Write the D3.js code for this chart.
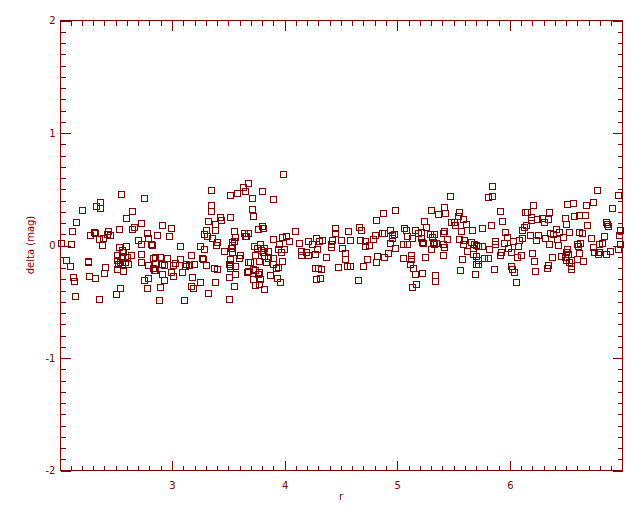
<!DOCTYPE html>
<html><head><meta charset="utf-8">
<script src="https://cdn.jsdelivr.net/npm/d3@7"></script>
<style>body{margin:0;background:#fff}svg{display:block}</style>
</head><body>
<svg id="c" width="640" height="512"></svg>
<script>
// r values
const rVals = [
2.554,2.758,2.365,2.332,2.365,2.208,2.652,2.598,2.155,2.731,2.667,2.652,2.536,2.119,2.310,2.320,2.439,2.424,2.456,2.279,2.394,2.359,2.785,2.794,2.705,2.385,2.022,2.110,2.731,2.815,2.824,2.531,2.596,2.557,2.572,2.513,2.557,2.602,2.640,2.731,2.838,2.066,2.256,2.261,2.518,2.542,2.525,2.589,2.616,2.563,2.731,2.101,2.412,2.513,2.572,2.794,2.833,2.844,2.403,2.128,2.137,2.270,2.323,2.791,2.758,2.545,2.510,2.785,2.146,2.359,
3.353,3.521,3.583,3.637,3.654,3.681,3.353,3.353,3.433,3.442,3.521,3.326,3.385,3.388,2.918,2.998,2.874,2.980,3.308,3.285,3.314,3.362,3.557,3.566,3.643,3.649,3.663,3.406,3.391,3.078,3.255,3.288,3.539,3.533,3.524,3.554,3.468,3.536,3.175,3.267,3.276,3.610,3.601,3.521,2.850,2.894,2.962,3.075,2.853,2.912,2.930,3.027,3.015,3.131,3.119,3.155,3.196,3.303,3.379,3.406,3.507,3.521,3.566,3.515,3.675,2.850,2.998,3.015,2.918,3.095,3.672,3.184,3.560,3.513,2.936,3.255,3.388,2.900,3.172,3.193,3.557,3.326,2.891,3.113,3.513,
3.992,3.805,3.717,3.903,3.717,3.725,3.805,3.814,3.770,4.098,3.675,3.903,3.980,4.018,4.045,3.956,4.134,4.211,4.284,4.338,4.249,4.308,4.453,4.453,4.426,4.415,4.412,4.503,4.512,3.731,3.755,3.788,3.791,3.817,3.808,3.950,3.971,4.003,3.859,4.151,4.151,4.196,4.211,4.276,4.293,4.370,4.477,3.743,3.779,3.699,3.678,3.823,3.859,3.838,3.897,3.900,3.980,3.944,3.927,3.720,3.743,3.779,3.764,3.879,3.933,3.965,3.728,3.785,3.743,3.779,3.823,4.273,4.302,4.329,4.282,4.317,
4.985,4.879,4.817,5.302,5.243,5.261,4.568,4.666,4.684,4.506,4.586,4.515,4.672,4.719,4.716,4.758,4.790,4.808,4.870,4.888,4.941,4.956,4.977,4.959,4.938,4.985,5.065,5.086,5.166,5.187,5.213,5.095,5.133,5.216,5.234,5.228,5.056,5.095,5.299,5.314,5.323,5.302,4.542,4.542,4.560,4.584,4.737,4.702,4.817,4.826,4.888,4.923,4.657,5.056,5.127,5.124,5.115,5.145,5.223,5.249,5.166,5.169,5.133,5.337,5.337,
5.846,5.811,5.846,5.474,5.917,5.420,5.429,5.367,5.553,5.544,5.589,5.509,5.616,5.518,5.483,5.935,5.837,5.757,5.668,5.571,5.961,5.979,5.988,5.953,6.032,6.085,6.076,6.112,6.127,6.112,6.139,5.420,5.411,5.332,5.349,5.332,5.411,5.420,5.447,5.553,5.598,5.589,5.660,5.687,5.704,5.678,5.722,5.757,5.819,5.873,5.873,5.625,5.678,5.704,5.775,5.813,5.926,5.917,6.018,6.068,6.103,5.411,5.580,5.722,5.704,5.722,5.562,5.695,5.864,6.015,6.027,6.041,6.059,
6.778,6.964,6.742,6.680,6.565,6.512,6.911,6.210,6.352,6.154,6.618,6.671,6.574,6.494,6.503,6.689,6.192,6.192,6.245,6.290,6.308,6.343,6.148,6.858,6.876,6.867,6.414,6.441,6.361,6.387,6.316,6.254,6.183,6.237,6.529,6.618,6.645,6.725,6.840,6.822,6.796,6.982,6.973,6.982,6.964,6.476,6.423,6.352,6.432,6.600,6.627,6.609,6.742,6.751,6.787,6.858,6.893,6.796,6.201,6.379,6.219,6.228,6.334,6.343,6.458,6.503,6.494,6.512,6.520,6.618,6.503,6.529,6.547,6.547,6.547,6.600,6.654
];
// delta (mag) values
const deltaVals = [
0.451,0.415,0.380,0.344,0.326,0.308,0.300,0.237,0.202,0.193,0.163,0.142,0.142,0.122,0.115,0.105,0.122,0.095,0.086,0.086,0.065,0.053,0.104,0.065,0.042,0.000,0.015,0.006,0.012,0.012,0.000,-0.018,-0.012,-0.044,-0.065,-0.089,-0.104,-0.104,-0.089,-0.077,-0.113,-0.136,-0.145,-0.154,-0.131,-0.148,-0.166,-0.154,-0.166,-0.169,-0.154,-0.189,-0.198,-0.216,-0.234,-0.178,-0.204,-0.225,-0.252,-0.282,-0.323,-0.278,-0.291,-0.296,-0.314,-0.385,-0.436,-0.385,-0.456,-0.483,
0.486,0.441,0.459,0.519,0.480,0.548,0.353,0.299,0.252,0.219,0.246,0.210,0.184,0.130,0.175,0.148,0.086,0.077,0.133,0.095,0.083,0.059,0.121,0.071,0.107,0.077,0.080,0.024,0.000,-0.012,-0.012,-0.036,0.030,0.000,-0.030,0.036,-0.056,-0.065,-0.092,-0.119,-0.127,-0.089,-0.119,-0.124,-0.110,-0.110,-0.119,-0.127,-0.160,-0.166,-0.178,-0.157,-0.175,-0.172,-0.184,-0.178,-0.172,-0.178,-0.207,-0.216,-0.172,-0.187,-0.190,-0.207,-0.148,-0.222,-0.243,-0.276,-0.258,-0.243,-0.237,-0.287,-0.261,-0.287,-0.314,-0.332,-0.332,-0.376,-0.367,-0.385,-0.367,-0.430,-0.489,-0.492,-0.483,
0.628,0.477,0.415,0.406,0.317,0.258,0.166,0.148,0.139,0.121,0.104,0.053,0.068,0.077,0.033,0.009,0.015,0.033,0.059,0.047,0.006,0.036,0.148,0.104,0.041,0.006,-0.018,0.041,-0.030,-0.009,-0.030,0.009,-0.044,-0.030,-0.065,-0.036,-0.059,-0.036,-0.056,-0.053,-0.089,-0.065,-0.089,-0.083,-0.039,-0.110,-0.199,-0.089,-0.139,-0.148,-0.231,-0.098,-0.113,-0.151,-0.119,-0.169,-0.145,-0.196,-0.202,-0.213,-0.222,-0.243,-0.258,-0.267,-0.296,-0.332,-0.305,-0.302,-0.356,-0.347,-0.394,-0.207,-0.201,-0.216,-0.305,-0.296,
0.308,0.281,0.219,0.308,0.210,0.157,0.121,0.157,0.130,0.041,0.041,-0.030,0.041,0.033,-0.006,-0.003,0.050,0.086,0.110,0.104,0.130,0.086,0.095,0.059,0.015,-0.030,0.148,0.130,0.130,0.104,0.119,0.083,0.065,0.065,0.018,0.030,0.006,0.006,0.095,0.074,0.024,-0.036,-0.074,-0.127,-0.187,-0.187,-0.127,-0.187,-0.154,-0.101,-0.110,-0.074,-0.314,-0.119,-0.092,-0.127,-0.172,-0.207,-0.252,-0.110,-0.261,-0.347,-0.376,-0.267,-0.320,
0.521,0.424,0.433,0.433,0.299,0.335,0.281,0.273,0.290,0.261,0.228,0.201,0.190,0.175,0.201,0.210,0.175,0.148,0.130,0.121,0.113,0.068,-0.027,0.015,0.033,0.044,-0.012,0.130,0.160,0.059,0.290,0.121,0.104,0.095,0.015,0.006,0.006,-0.018,0.050,0.050,0.044,0.006,0.024,0.009,0.000,-0.027,-0.012,-0.012,-0.039,0.033,0.012,-0.056,-0.083,-0.095,-0.119,-0.119,-0.065,-0.092,-0.065,-0.107,-0.089,-0.092,-0.127,-0.133,-0.172,-0.172,-0.225,-0.261,-0.216,-0.187,-0.216,-0.243,-0.332,
0.486,0.444,0.379,0.353,0.370,0.361,0.326,0.353,0.290,0.290,0.264,0.264,0.255,0.237,0.184,0.175,0.246,0.219,0.228,0.237,0.201,0.228,0.175,0.201,0.166,0.190,0.139,0.113,0.104,0.095,0.059,0.086,0.086,0.044,0.113,0.113,0.104,0.059,0.077,0.015,0.006,0.130,0.089,0.006,-0.039,0.068,0.050,0.006,-0.003,0.006,0.015,-0.012,-0.021,-0.065,-0.083,-0.083,-0.056,-0.059,-0.074,-0.110,-0.145,-0.234,-0.207,-0.181,-0.101,-0.065,-0.110,-0.039,-0.083,-0.074,-0.136,-0.148,-0.136,-0.190,-0.216,-0.127,-0.145
];
const xTicks = [3, 4, 5, 6];
const yTicks = [-2, -1, 0, 1, 2];
const xTitle = "r";
const yTitle = "delta (mag)";

const col = "#800000";
const svg = d3.select("#c");
const L = 60, R = 622, T = 20, B = 470;
const x = d3.scaleLinear().domain([2.01, 7.0]).range([L, R]);
const y = d3.scaleLinear().domain([-2, 2]).range([B, T]);

const g = svg.append("g").attr("shape-rendering", "crispEdges");
const pts = rVals.map((r, i) => [r, deltaVals[i]]);
g.selectAll("rect.pt").data(pts).enter().append("rect")
  .attr("class", "pt")
  .attr("x", d => Math.round(x(d[0])) - 3 + 0.5)
  .attr("y", d => Math.round(y(d[1])) - 3 + 0.5)
  .attr("width", 6).attr("height", 6)
  .attr("fill", "none").attr("stroke", col).attr("stroke-width", 1);

g.append("rect").attr("x", L + 0.5).attr("y", T + 0.5)
  .attr("width", R - L).attr("height", B - T)
  .attr("fill", "none").attr("stroke", col).attr("stroke-width", 1);

const fnt = "DejaVu Sans, sans-serif";
const fmt = v => String(v);
function axis(a, tr) {
  const gg = svg.append("g").attr("transform", tr).call(a);
  gg.select(".domain").remove();
  gg.selectAll("line").attr("stroke", col).attr("shape-rendering", "crispEdges");
  gg.selectAll("text").attr("fill", col).attr("font-family", fnt).attr("font-size", 10);
  return gg;
}
const xMinor = d3.range(21, 70).map(v => v / 10);
const yMinor = d3.range(-20, 21).map(v => v / 10);
axis(d3.axisTop(x).tickValues(xMinor).tickSize(5).tickFormat(""), `translate(0.5,${B + 0.5})`);
axis(d3.axisTop(x).tickValues(xTicks).tickSize(10).tickFormat(""), `translate(0.5,${B + 0.5})`);
axis(d3.axisBottom(x).tickValues(xTicks).tickSize(0).tickPadding(11).tickFormat(fmt), `translate(0.5,${B + 0.5})`);
axis(d3.axisBottom(x).tickValues(xMinor).tickSize(5).tickFormat(""), `translate(0.5,${T + 0.5})`);
axis(d3.axisBottom(x).tickValues(xTicks).tickSize(10).tickFormat(""), `translate(0.5,${T + 0.5})`);
axis(d3.axisRight(y).tickValues(yMinor).tickSize(5).tickFormat(""), `translate(${L + 0.5},0.5)`);
axis(d3.axisRight(y).tickValues(yTicks).tickSize(10).tickFormat(""), `translate(${L + 0.5},0.5)`);
axis(d3.axisLeft(y).tickValues(yTicks).tickSize(0).tickPadding(5).tickFormat(fmt), `translate(${L + 0.5},0.5)`);
axis(d3.axisLeft(y).tickValues(yMinor).tickSize(5).tickFormat(""), `translate(${R + 0.5},0.5)`);
axis(d3.axisLeft(y).tickValues(yTicks).tickSize(10).tickFormat(""), `translate(${R + 0.5},0.5)`);

svg.append("text").attr("x", (L + R) / 2).attr("y", 500).attr("text-anchor", "middle")
  .attr("fill", col).attr("font-family", fnt).attr("font-size", 10).text(xTitle);
svg.append("text").attr("transform", `translate(34,${(T + B) / 2}) rotate(-90)`)
  .attr("text-anchor", "middle").attr("fill", col).attr("font-family", fnt).attr("font-size", 10).text(yTitle);
</script>
</body></html>
